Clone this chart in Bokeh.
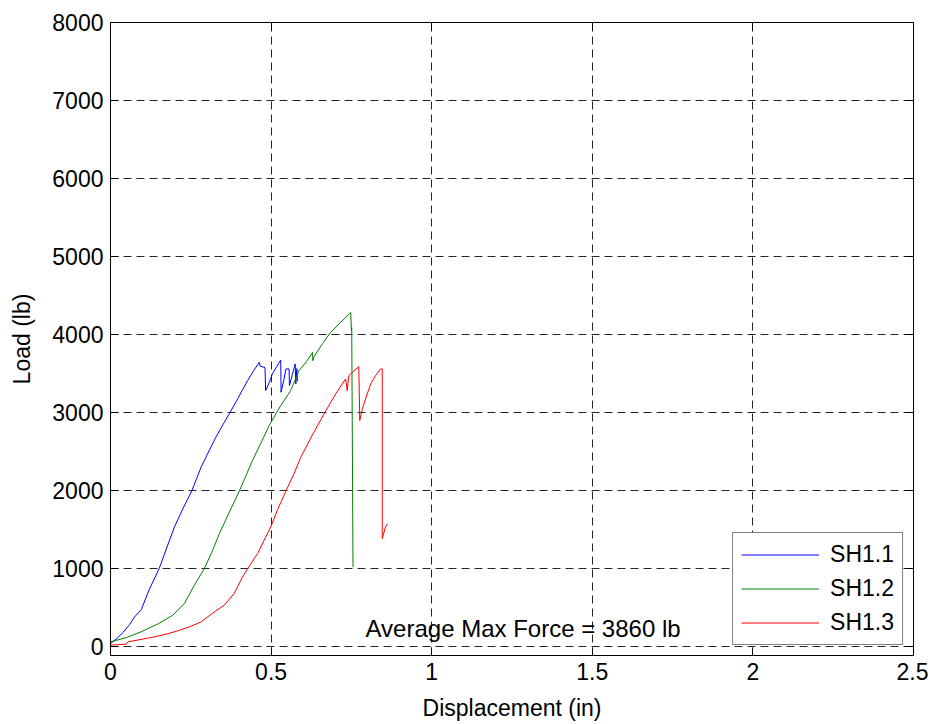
from bokeh.plotting import figure
from bokeh.models import FixedTicker, LinearAxis, Legend, LegendItem, Label, Range1d, CustomJSTickFormatter
from bokeh.embed import file_html
from bokeh.resources import INLINE

# ---- data ----
sh11_x = [0.0, 0.02, 0.04, 0.06, 0.075, 0.096, 0.12, 0.152, 0.175, 0.199, 0.225, 0.253, 0.282, 0.305,
          0.328, 0.35, 0.370, 0.396, 0.41, 0.427, 0.445, 0.463, 0.466, 0.481, 0.483, 0.494, 0.504, 0.518,
          0.530, 0.531, 0.540, 0.546, 0.556, 0.557, 0.566, 0.575, 0.577, 0.580, 0.582]
sh11_y = [30, 100, 180, 280, 375, 470, 720, 1000, 1260, 1528, 1760, 1990, 2296, 2490,
          2680, 2840, 2983, 3172, 3280, 3406, 3530, 3640, 3590, 3575, 3278, 3380, 3492, 3590,
          3671, 3257, 3420, 3556, 3556, 3342, 3480, 3620, 3364, 3560, 3400]

sh12_x = [0.0, 0.05, 0.095, 0.15, 0.194, 0.230, 0.261, 0.292, 0.315, 0.339, 0.37, 0.401, 0.442,
          0.47, 0.494, 0.530, 0.561, 0.587, 0.61, 0.629, 0.630, 0.632, 0.66, 0.685, 0.716, 0.748,
          0.750, 0.751, 0.755]
sh12_y = [55, 110, 183, 290, 397, 547, 781, 995, 1200, 1443, 1720, 1989, 2382,
          2620, 2830, 3086, 3278, 3534, 3650, 3768, 3662, 3700, 3880, 4024, 4152, 4280,
          4046, 4088, 1015]

sh13_x = [0.0, 0.049, 0.054, 0.10, 0.137, 0.17, 0.209, 0.25, 0.282, 0.323, 0.354, 0.385, 0.411,
          0.427, 0.458, 0.478, 0.499, 0.52, 0.546, 0.57, 0.592, 0.63, 0.665, 0.701, 0.732, 0.737,
          0.742, 0.755, 0.773, 0.776, 0.784, 0.798, 0.810, 0.825, 0.841, 0.846, 0.846, 0.856, 0.863]
sh13_y = [13, 26, 55, 90, 119, 150, 196, 255, 311, 439, 525, 675, 887,
          995, 1187, 1357, 1528, 1750, 1989, 2200, 2420, 2720, 2980, 3236, 3428, 3278,
          3470, 3520, 3585, 2894, 3044, 3220, 3364, 3470, 3556, 3556, 1379, 1528, 1571]

series_names = ["SH1.1", "SH1.2", "SH1.3"]
series_colors = ["#0000FF", "#008000", "#FF0000"]

x_ticks = [0, 0.5, 1, 1.5, 2, 2.5]
x_tick_labels = ["0", "0.5", "1", "1.5", "2", "2.5"]
y_ticks = [0, 1000, 2000, 3000, 4000, 5000, 6000, 7000, 8000]

annotation_text = "Average Max Force = 3860 lb"

FONT = "Liberation Sans"
FS = "23px"

p = figure(width=928, height=724, output_backend="svg", toolbar_location=None,
           x_range=Range1d(0, 2.5), y_range=Range1d(-120, 8000),
           min_border_left=110, min_border_top=22, min_border_right=15, min_border_bottom=69,
           background_fill_color="white", border_fill_color="white")
p.outline_line_color = "black"

overrides = {float(t): l for t, l in zip(x_ticks, x_tick_labels)}
overrides.update({t: l for t, l in zip(x_ticks, x_tick_labels)})

def style_axis(ax, show_labels=True):
    ax.axis_line_color = "black"
    ax.major_tick_in = 8
    ax.major_tick_out = 0
    ax.minor_tick_line_color = None
    ax.major_tick_line_color = "black"
    ax.major_label_text_font = FONT
    ax.major_label_text_color = "black"
    ax.axis_label_text_font = FONT
    ax.axis_label_text_font_style = "normal"
    ax.axis_label_text_font_size = FS
    ax.axis_label_text_color = "black"
    ax.major_label_text_font_size = FS
    if not show_labels:
        ax.major_label_text_color = None
        ax.major_label_text_font_size = "2px"
        ax.major_label_standoff = 0
        ax.formatter = CustomJSTickFormatter(code="return ''")

xt = FixedTicker(ticks=x_ticks)
yt = FixedTicker(ticks=y_ticks)

p.xaxis.ticker = xt
p.xaxis.major_label_overrides = overrides
p.xaxis.axis_label = "Displacement (in)"
p.yaxis.ticker = yt
p.yaxis.axis_label = "Load (lb)"
for ax in p.xaxis + p.yaxis:
    style_axis(ax)
p.xaxis.major_label_standoff = 7
p.yaxis.major_label_standoff = 7
p.xaxis.axis_label_standoff = 12
p.yaxis.axis_label_standoff = 14

top = LinearAxis(ticker=FixedTicker(ticks=x_ticks))
right = LinearAxis(ticker=FixedTicker(ticks=y_ticks))
style_axis(top, False)
style_axis(right, False)
p.add_layout(top, "above")
p.add_layout(right, "right")

p.xgrid.ticker = xt
p.ygrid.ticker = yt
for g in (p.xgrid, p.ygrid):
    g.grid_line_color = "black"
    g.grid_line_dash = "8 5"
    g.grid_line_width = 1
    g.grid_line_alpha = 0.85

r1 = p.line(sh11_x, sh11_y, line_color=series_colors[0], line_width=1)
r2 = p.line(sh12_x, sh12_y, line_color=series_colors[1], line_width=1)
r3 = p.line(sh13_x, sh13_y, line_color=series_colors[2], line_width=1)

p.add_layout(Label(x=0.794, y=231, text=annotation_text, text_font=FONT, text_font_size="24px",
                   text_baseline="middle", text_color="black"))

legend = Legend(items=[LegendItem(label=n, renderers=[r]) for n, r in zip(series_names, [r1, r2, r3])],
                location="bottom_right")
legend.label_text_font = FONT
legend.label_text_font_size = FS
legend.label_text_color = "black"
legend.glyph_width = 78
legend.glyph_height = 27
legend.label_height = 27
legend.label_standoff = 11
legend.spacing = 7
legend.padding = 8
legend.margin = 10
legend.border_line_color = "black"
legend.border_line_width = 1
legend.background_fill_color = "white"
legend.background_fill_alpha = 1.0
p.add_layout(legend)

open("out.html", "w").write(file_html(p, INLINE))
